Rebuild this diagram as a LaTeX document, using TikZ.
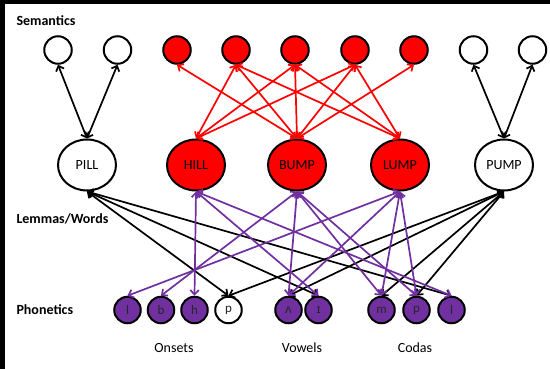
\documentclass[tikz,border=0pt]{standalone}
\usepackage{fontspec}
\setmainfont{Carlito}
\newfontfamily\ipafont{DejaVu Sans}
\usetikzlibrary{arrows.meta,shapes.geometric}
\definecolor{nodered}{HTML}{FF0000}
\definecolor{phonpurple}{HTML}{7030A0}
\begin{document}
\begin{tikzpicture}[x=1pt,y=-1pt,
  >={Straight Barb[length=4.5pt,width=8.5pt]},
  txt/.style={font=\fontsize{14}{16}\selectfont},
  layer/.style={anchor=base west,font=\bfseries\fontsize{14}{16}\selectfont},
  group/.style={anchor=base,font=\fontsize{14}{16}\selectfont},
  semnode/.style={circle,draw=black,line width=2pt,minimum size=27.5pt,inner sep=0pt,fill=white},
  semred/.style={semnode,fill=nodered},
  lemma/.style={ellipse,draw=black,line width=2pt,minimum width=58pt,minimum height=51pt,inner sep=0pt,fill=white,txt},
  lemmared/.style={lemma,fill=nodered},
  phon/.style={circle,draw=black,line width=2pt,minimum size=26.5pt,inner sep=0pt,fill=phonpurple,font=\fontsize{13}{15}\selectfont,text=black!85},
  phonwhite/.style={phon,fill=white},
  link/.style={<->,line width=1.7pt,draw=black},
  redlink/.style={link,draw=nodered},
  purplelink/.style={link,draw=phonpurple}]

% canvas with the dark frame strips on top and left
\useasboundingbox (0,0) rectangle (550,369);
\fill[white] (0,0) rectangle (550,369);
\fill[black] (0,0) rectangle (550,4.5);
\fill[black] (0,0) rectangle (4.5,369);

% layer titles
\node[layer] (tsem) at (13,26) {Semantics};
\node[layer] (tlem) at (13,224) {Lemmas/Words};
\node[layer] (tpho) at (13,314) {Phonetics};

% semantic features
\node[semnode] (s1) at (58,50) {};
\node[semnode] (s2) at (117.5,50) {};
\node[semred]  (s3) at (177,50) {};
\node[semred]  (s4) at (236,50) {};
\node[semred]  (s5) at (295,50) {};
\node[semred]  (s6) at (355,50) {};
\node[semred]  (s7) at (414,50) {};
\node[semnode] (s8) at (473.5,50) {};
\node[semnode] (s9) at (532.5,50) {};

% lemmas
\node[lemma]    (pill) at (87,165)  {PILL};
\node[lemmared] (hill) at (196,165) {HILL};
\node[lemmared] (bump) at (297,165) {BUMP};
\node[lemmared] (lump) at (400,165) {LUMP};
\node[lemma]    (pump) at (504,165) {PUMP};

% phonetic segments
\node[phon]      (o1) at (127.5,310) {l};
\node[phon]      (o2) at (161,310)   {b};
\node[phon]      (o3) at (194.5,310) {h};
\node[phonwhite] (o4) at (228.5,310) {p};
\node[phon]      (v1) at (288.5,310) {\ipafont\fontsize{12}{14}\selectfont\raisebox{-1.5pt}{ʌ}};
\node[phon]      (v2) at (318.5,310) {\ipafont\fontsize{12}{14}\selectfont ɪ};
\node[phon]      (c1) at (381.5,310) {m};
\node[phon]      (c2) at (416.5,310) {p};
\node[phon]      (c3) at (451.5,310) {l};

% group captions
\node[group] (gon) at (174,352) {Onsets};
\node[group] (gvo) at (302,352) {Vowels};
\node[group] (gco) at (415,352) {Codas};

% semantics <-> lemmas
\draw[link] (s1.south) -- (pill.north);
\draw[link] (s2.south) -- (pill.north);
\draw[link] (s8.south) -- (pump.north);
\draw[link] (s9.south) -- (pump.north);
\foreach \s in {s4,s5,s6} \draw[redlink] (\s.south) -- (hill.north);
\foreach \s in {s3,s4,s5,s6,s7} \draw[redlink] (\s.south) -- (bump.north);
\foreach \s in {s4,s5,s6} \draw[redlink] (\s.south) -- (lump.north);

% lemmas <-> phonetics
\foreach \p in {o4,v2,c3} \draw[link] (pill.south) -- (\p.north);
\foreach \p in {o4,v1,c1,c2} \draw[link] (pump.south) -- (\p.north);
\foreach \p in {o3,v2,c3} \draw[purplelink] (hill.south) -- (\p.north);
\foreach \p in {o2,v1,c1,c2} \draw[purplelink] (bump.south) -- (\p.north);
\foreach \p in {o1,v1,c1,c2} \draw[purplelink] (lump.south) -- (\p.north);
\end{tikzpicture}
\end{document}
